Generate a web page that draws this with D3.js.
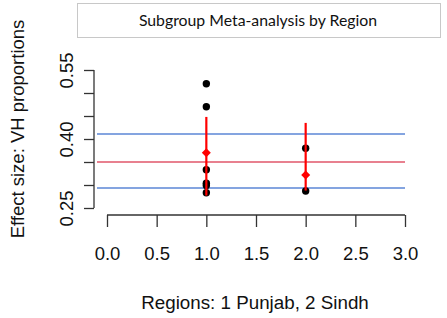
<!DOCTYPE html>
<html><head><meta charset="utf-8">
<script src="https://cdn.jsdelivr.net/npm/d3@7"></script>
<style>body{margin:0;background:#fff;}svg{display:block;}</style>
</head><body>
<script>
// Data
const regions = [1, 2];
const studyRegion = [1, 1, 1, 1, 1, 1, 2, 2];
const studyEffect = [0.520, 0.470, 0.333, 0.304, 0.299, 0.283, 0.380, 0.287];
const pooledEffect = [0.370, 0.322];
const ciLower = [0.277, 0.288];
const ciUpper = [0.448, 0.435];
const overallEffect = 0.350;
const overallCI = [0.2935, 0.411];
const xTicks = [0, 0.5, 1, 1.5, 2, 2.5, 3];
const yTicks = [0.25, 0.30, 0.35, 0.40, 0.45, 0.50, 0.55];
const yLabelTicks = [0.25, 0.40, 0.55];
const title = "Subgroup Meta-analysis by Region";
const xTitle = "Regions: 1 Punjab, 2 Sindh";
const yTitle = "Effect size: VH proportions";

const W = 447, H = 318;
const svg = d3.select("body").append("svg").attr("width", W).attr("height", H);

const x = d3.scaleLinear().domain([0, 3]).range([107, 405]);
const y = d3.scaleLinear().domain([0.25, 0.55]).range([208, 70]);
const font = "'Liberation Sans', Arial, sans-serif";

// title box
svg.append("rect").attr("x", 77.5).attr("y", 3.5).attr("width", 363).attr("height", 34)
  .attr("fill", "#fff").attr("stroke", "#c8c8c8").attr("stroke-width", 1);
svg.append("text").attr("x", 258).attr("y", 26).attr("text-anchor", "middle")
  .attr("font-family", "Lato, 'Open Sans', sans-serif").attr("font-size", 15.8).attr("fill", "#111")
  .text(title);

// y axis
const yAxis = d3.axisLeft(y).tickValues(yTicks).tickSize(10)
  .tickFormat(d => yLabelTicks.some(v => Math.abs(v - d) < 1e-9) ? d3.format(".2f")(d) : "");
const gy = svg.append("g").attr("transform", "translate(94,0)").call(yAxis);
gy.select(".domain").attr("d", `M0,${y(0.25)}V${y(0.55)}`).attr("stroke", "#333").attr("stroke-width", 1.3);
gy.selectAll(".tick line").attr("stroke", "#333").attr("stroke-width", 1.3);
gy.selectAll(".tick text").attr("transform", "rotate(-90)").attr("x", 0).attr("y", -21)
  .attr("dy", 0).attr("text-anchor", "middle")
  .attr("font-family", font).attr("font-size", 18.5).attr("fill", "#111");

// x axis
const xAxis = d3.axisBottom(x).tickValues(xTicks).tickSize(12).tickFormat(d3.format(".1f"));
const gx = svg.append("g").attr("transform", "translate(0,215)").call(xAxis);
gx.select(".domain").attr("d", `M${x(0)},0H${x(3)}`).attr("stroke", "#333").attr("stroke-width", 1.3);
gx.selectAll(".tick line").attr("stroke", "#333").attr("stroke-width", 1.3);
gx.selectAll(".tick text").attr("y", 45).attr("dy", 0)
  .attr("font-family", font).attr("font-size", 18.5).attr("fill", "#111");

// axis titles
svg.append("text").attr("x", 255).attr("y", 309).attr("text-anchor", "middle")
  .attr("font-family", font).attr("font-size", 18.8).attr("fill", "#111")
  .text(xTitle);
svg.append("text").attr("transform", `translate(24,129) rotate(-90)`).attr("text-anchor", "middle")
  .attr("font-family", font).attr("font-size", 18.5).attr("fill", "#111")
  .text(yTitle);

// reference lines
const xl0 = 97, xl1 = 405;
overallCI.forEach(v => {
  svg.append("line").attr("x1", xl0).attr("x2", xl1).attr("y1", y(v)).attr("y2", y(v))
    .attr("stroke", "#5b86d6").attr("stroke-width", 1.4);
});
svg.append("line").attr("x1", xl0).attr("x2", xl1).attr("y1", y(overallEffect)).attr("y2", y(overallEffect))
  .attr("stroke", "#e0566a").attr("stroke-width", 1.6);

// study points
svg.append("g").selectAll("circle").data(studyEffect).join("circle")
  .attr("cx", (d, i) => x(studyRegion[i])).attr("cy", d => y(d)).attr("r", 3.7).attr("fill", "#000");

// CIs
svg.append("g").selectAll("line").data(regions).join("line")
  .attr("x1", d => x(d)).attr("x2", d => x(d))
  .attr("y1", (d, i) => y(ciUpper[i])).attr("y2", (d, i) => y(ciLower[i]))
  .attr("stroke", "#ff0000").attr("stroke-width", 2.2);

// pooled diamonds
const dsz = 4.5;
svg.append("g").selectAll("path").data(regions).join("path")
  .attr("d", (d, i) => {
    const cx = x(d), cy = y(pooledEffect[i]);
    return `M${cx},${cy - dsz}L${cx + dsz},${cy}L${cx},${cy + dsz}L${cx - dsz},${cy}Z`;
  })
  .attr("fill", "#ff0000");
</script>
</body></html>
